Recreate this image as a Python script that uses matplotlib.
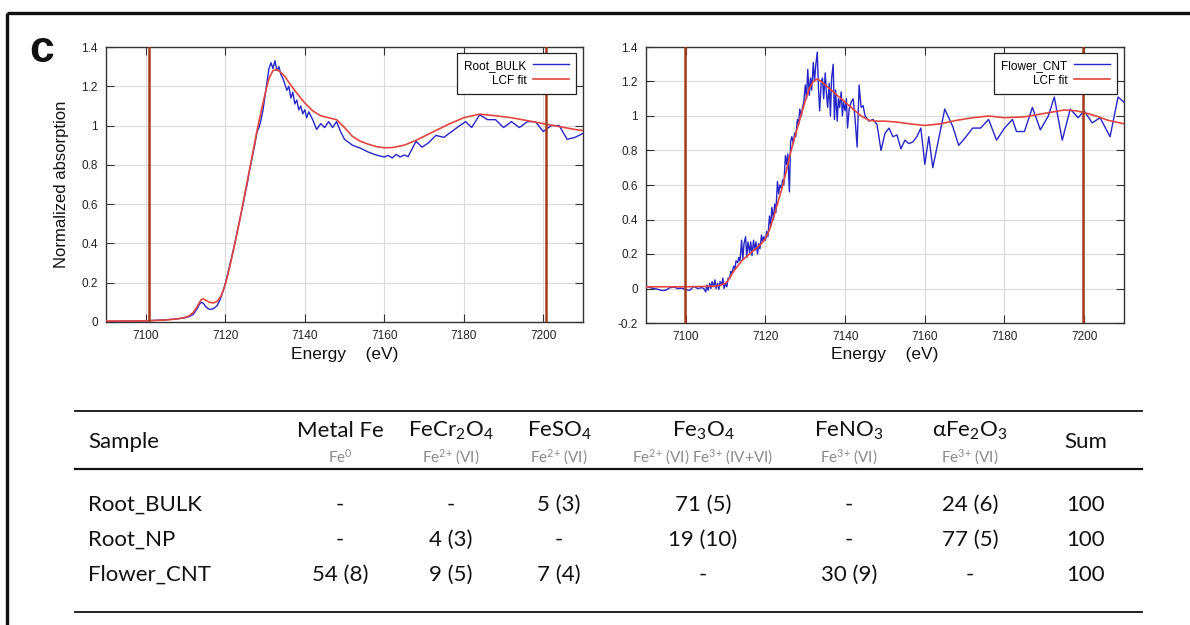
import matplotlib
matplotlib.use('Agg')
import matplotlib.pyplot as plt
from matplotlib.lines import Line2D
from matplotlib.ticker import FuncFormatter, MultipleLocator

# ---------------- data ----------------
# Left panel: Root_BULK
bulk_E = [7090, 7092, 7094, 7096, 7098, 7100, 7102, 7104, 7106, 7108, 7110, 7111, 7112, 7113,
          7113.5, 7114, 7114.5, 7115, 7115.5, 7116, 7116.5, 7117, 7117.5, 7118, 7118.5, 7119,
          7119.5, 7120, 7120.5, 7121, 7121.5, 7122, 7122.5, 7123, 7123.5, 7124, 7124.5, 7125,
          7125.5, 7126, 7126.5, 7127, 7127.5, 7128, 7128.5, 7129, 7129.5, 7130, 7130.5, 7131,
          7131.5, 7132, 7132.5, 7133, 7133.5, 7134, 7134.5, 7135, 7135.5, 7136, 7136.5, 7137,
          7137.5, 7138, 7138.5, 7139, 7139.5, 7140, 7140.5, 7141, 7142, 7143, 7144, 7145, 7146,
          7147, 7148, 7149, 7150, 7152, 7154, 7156, 7158, 7160, 7161, 7162, 7163, 7164, 7165,
          7166, 7168, 7169.5, 7171, 7173, 7175, 7177, 7179, 7180.5, 7182, 7184, 7186, 7188,
          7190, 7192, 7194, 7196, 7198, 7200, 7202, 7204, 7206, 7208, 7210]
bulk_mu = [0.004, 0.003, 0.004, 0.005, 0.005, 0.006, 0.008, 0.010, 0.013, 0.016, 0.022, 0.028, 0.040, 0.070,
           0.090, 0.100, 0.095, 0.080, 0.070, 0.065, 0.065, 0.068, 0.075, 0.085, 0.105, 0.130,
           0.160, 0.195, 0.235, 0.280, 0.320, 0.365, 0.410, 0.460, 0.505, 0.555, 0.600, 0.655,
           0.700, 0.760, 0.810, 0.860, 0.910, 0.970, 0.990, 1.030, 1.080, 1.150, 1.220, 1.290,
           1.320, 1.290, 1.330, 1.280, 1.300, 1.260, 1.240, 1.210, 1.180, 1.200, 1.140, 1.170,
           1.110, 1.130, 1.080, 1.100, 1.060, 1.080, 1.040, 1.070, 1.030, 0.980, 1.010, 0.990, 1.020,
           0.990, 1.020, 0.970, 0.930, 0.900, 0.885, 0.865, 0.850, 0.840, 0.848, 0.835, 0.853, 0.840, 0.850,
           0.842, 0.920, 0.890, 0.910, 0.950, 0.940, 0.970, 1.000, 1.020, 0.990, 1.055, 1.030, 1.030,
           0.990, 1.020, 0.990, 1.020, 1.020, 0.970, 1.000, 1.000, 0.930, 0.940, 0.960]
bulk_fit_E = [7090, 7095, 7100, 7105, 7108, 7110, 7111, 7112, 7113, 7113.5, 7114, 7114.5, 7115, 7116,
              7117, 7118, 7119, 7120, 7121, 7122, 7123, 7124, 7125, 7126, 7127, 7128, 7129, 7130,
              7131, 7132, 7133, 7134, 7135, 7136, 7138, 7140, 7142, 7144, 7146, 7148, 7150, 7152,
              7154, 7156, 7158, 7160, 7162, 7165, 7168, 7170, 7173, 7176, 7180, 7184, 7188, 7192,
              7196, 7200, 7204, 7208, 7210]
bulk_fit = [0.005, 0.005, 0.006, 0.010, 0.016, 0.024, 0.032, 0.050, 0.080, 0.100, 0.115, 0.118, 0.112, 0.100,
            0.097, 0.105, 0.135, 0.190, 0.270, 0.360, 0.455, 0.555, 0.660, 0.765, 0.870, 0.975, 1.070, 1.160,
            1.240, 1.280, 1.285, 1.270, 1.250, 1.220, 1.165, 1.115, 1.075, 1.050, 1.040, 1.030, 0.990, 0.945,
            0.920, 0.905, 0.893, 0.887, 0.888, 0.900, 0.925, 0.945, 0.975, 1.005, 1.040, 1.058, 1.050, 1.040,
            1.025, 1.010, 0.995, 0.980, 0.975]
bulk_range = [7100.7, 7200.7]

# Right panel: Flower_CNT
cnt_E = [7090, 7091, 7092, 7093, 7094, 7095, 7096, 7097, 7098, 7099, 7100, 7101, 7102, 7103, 7104,
         7104.5, 7105, 7105.3, 7105.6, 7106, 7106.3, 7106.6, 7107, 7107.3, 7107.6, 7108, 7108.3,
         7108.6, 7109, 7109.3, 7109.6, 7110, 7110.3, 7110.6, 7111, 7111.3, 7111.6, 7112, 7112.3,
         7112.6, 7113, 7113.3, 7113.6, 7114, 7114.3, 7114.6, 7115, 7115.3, 7115.6, 7116, 7116.3,
         7116.6, 7117, 7117.3, 7117.6, 7118, 7118.3, 7118.6, 7119, 7119.3, 7119.6, 7120, 7120.3,
         7120.6, 7121, 7121.3, 7121.6, 7122, 7122.3, 7122.6, 7123, 7123.3, 7123.6, 7124, 7124.3,
         7124.6, 7125, 7125.3, 7125.6, 7126, 7126.3, 7126.6, 7127, 7127.3, 7127.6, 7128, 7128.3,
         7128.6, 7129, 7129.3, 7129.6, 7130, 7130.3, 7130.6, 7131, 7131.3, 7131.6, 7132, 7132.3,
         7132.6, 7133, 7133.3, 7133.6, 7134, 7134.3, 7134.6, 7135, 7135.3, 7135.6, 7136, 7136.3,
         7136.6, 7137, 7137.3, 7137.6, 7138, 7138.3, 7138.6, 7139, 7139.3, 7139.6, 7140, 7140.3,
         7140.6, 7141, 7141.5, 7142, 7142.5, 7143, 7143.5, 7144, 7144.5, 7145, 7146, 7147, 7148,
         7149, 7150, 7151, 7152, 7153, 7154, 7155, 7156, 7157, 7158, 7159, 7160, 7161, 7162,
         7163.5, 7165, 7167, 7168.5, 7170, 7172, 7174, 7176, 7178, 7180, 7182, 7183, 7185, 7187,
         7189, 7191, 7192.5, 7194.5, 7196.5, 7198.5, 7200, 7202, 7204, 7206.5, 7208.5, 7210]
cnt_mu = [0.015, 0.005, 0.000, -0.005, -0.012, -0.010, 0.005, 0.008, 0.000, 0.002, -0.008, -0.010, 0.012, 0.000, 0.005,
          0.000, -0.020, 0.020, -0.010, 0.030, 0.000, 0.040, 0.010, 0.050, 0.000, 0.030, -0.005,
          0.040, 0.020, 0.060, 0.000, 0.030, 0.010, 0.060, 0.060, 0.100, 0.090, 0.130, 0.110,
          0.160, 0.150, 0.180, 0.160, 0.280, 0.170, 0.260, 0.300, 0.180, 0.270, 0.210, 0.270,
          0.190, 0.280, 0.220, 0.270, 0.200, 0.260, 0.230, 0.310, 0.270, 0.300, 0.280, 0.330,
          0.300, 0.420, 0.360, 0.470, 0.400, 0.490, 0.440, 0.620, 0.550, 0.600, 0.580, 0.630,
          0.600, 0.770, 0.720, 0.780, 0.560, 0.850, 0.880, 0.840, 0.900, 0.880, 0.980, 0.950,
          1.040, 1.000, 1.050, 1.080, 1.180, 1.100, 1.270, 1.120, 1.220, 1.150, 1.310, 1.200,
          1.290, 1.370, 1.160, 1.030, 1.200, 1.220, 1.100, 1.250, 1.130, 1.050, 1.190, 1.000,
          1.220, 1.300, 0.980, 1.150, 0.970, 1.100, 1.050, 1.140, 1.000, 1.080, 1.030, 1.100,
          0.930, 1.040, 1.080, 1.100, 0.980, 0.820, 1.180, 1.050, 1.060, 1.000, 0.970, 0.980, 0.950,
          0.800, 0.900, 0.930, 0.880, 0.890, 0.810, 0.860, 0.840, 0.850, 0.880, 0.930, 0.720, 0.880, 0.700,
          0.870, 1.040, 0.940, 0.830, 0.870, 0.930, 0.930, 0.980, 0.860, 0.930, 0.980, 0.910, 0.910, 1.050,
          0.920, 1.000, 1.110, 0.860, 1.040, 0.990, 1.030, 0.960, 0.990, 0.880, 1.110, 1.080]
cnt_fit_E = [7090, 7100, 7105, 7108, 7110, 7111, 7112, 7113, 7114, 7115, 7116, 7117, 7118, 7119, 7120,
             7121, 7122, 7123, 7124, 7125, 7126, 7127, 7128, 7129, 7130, 7131, 7132, 7133, 7134, 7135,
             7136, 7138, 7140, 7142, 7144, 7146, 7148, 7150, 7153, 7156, 7160, 7164, 7168, 7172, 7176,
             7180, 7185, 7190, 7195, 7198, 7200, 7203, 7206, 7210]
cnt_fit = [0.010, 0.010, 0.012, 0.015, 0.030, 0.060, 0.100, 0.130, 0.160, 0.180, 0.200, 0.220, 0.240, 0.260, 0.290,
           0.340, 0.410, 0.490, 0.570, 0.660, 0.760, 0.850, 0.930, 1.010, 1.090, 1.160, 1.200, 1.215, 1.200, 1.180,
           1.160, 1.120, 1.080, 1.040, 1.000, 0.975, 0.970, 0.970, 0.965, 0.955, 0.945, 0.955, 0.975, 0.990, 1.000,
           0.990, 0.995, 1.015, 1.035, 1.030, 1.020, 1.000, 0.975, 0.955]
cnt_range = [7099.8, 7199.8]

# Table
samples = ['Root_BULK', 'Root_NP', 'Flower_CNT']
references = ['Metal Fe', 'FeCr$_2$O$_4$', 'FeSO$_4$', 'Fe$_3$O$_4$', 'FeNO$_3$', 'αFe$_2$O$_3$']
ref_states = ['Fe$^0$', 'Fe$^{2{+}}$ (VI)', 'Fe$^{2{+}}$ (VI)', 'Fe$^{2{+}}$ (VI) Fe$^{3{+}}$ (IV+VI)',
              'Fe$^{3{+}}$ (VI)', 'Fe$^{3{+}}$ (VI)']
metal_fe = [None, None, 54]
metal_fe_err = [None, None, 8]
fecr2o4 = [None, 4, 9]
fecr2o4_err = [None, 3, 5]
feso4 = [5, None, 7]
feso4_err = [3, None, 4]
fe3o4 = [71, 19, None]
fe3o4_err = [5, 10, None]
feno3 = [None, None, 30]
feno3_err = [None, None, 9]
afe2o3 = [24, 77, None]
afe2o3_err = [6, 5, None]
sums = [100, 100, 100]

# ---------------- figure ----------------
W, H = 1190, 625
plt.rcParams['font.family'] = ['Liberation Sans', 'DejaVu Sans']
plt.rcParams['mathtext.default'] = 'regular'

fig = plt.figure(figsize=(W / 100, H / 100), dpi=100)
fig.patch.set_facecolor('white')


def fx(x):
    return x / W


def fy(y):
    return 1 - y / H


def add_ax(x0, y0, x1, y1):
    return fig.add_axes([fx(x0), fy(y1), (x1 - x0) / W, (y1 - y0) / H])


BLUE = '#2626c8'
RED = '#e2463e'
BROWN = '#a63b1c'
AXC = '#333333'

panels = [
    (add_ax(106, 47, 583, 322), bulk_E, bulk_mu, bulk_fit_E, bulk_fit, bulk_range, 'Root_BULK', (0.0, 1.4), True),
    (add_ax(646, 47, 1124, 323), cnt_E, cnt_mu, cnt_fit_E, cnt_fit, cnt_range, 'Flower_CNT', (-0.2, 1.4), False),
]

for ax, E, mu, fE, fit, rng, name, ylim, ylab in panels:
    ax.plot(E, mu, color=BLUE, lw=1.0, label=name, zorder=3)
    ax.plot(fE, fit, color=RED, lw=1.2, label='LCF fit', zorder=4)
    for r in rng:
        ax.axvline(r, color=BROWN, lw=1.8, zorder=5)
    ax.set_xlim(7090, 7210)
    ax.set_ylim(*ylim)
    ax.xaxis.set_major_locator(MultipleLocator(20))
    ax.yaxis.set_major_locator(MultipleLocator(0.2))
    ax.yaxis.set_major_formatter(FuncFormatter(lambda v, p: f'{v:g}' if abs(v) > 1e-9 else '0'))
    ax.grid(True, color='#dadada', lw=0.8, zorder=0)
    ax.tick_params(direction='in', length=6, width=0.8, colors=AXC, labelcolor='#222222',
                   labelsize=8.5, top=True, right=True, pad=6)
    for s in ax.spines.values():
        s.set_color(AXC)
        s.set_linewidth(1.0)
    ax.set_xlabel('Energy    (eV)', fontsize=12.5, labelpad=3, color='#111111')
    if ylab:
        ax.set_ylabel('Normalized absorption', fontsize=12, labelpad=9, color='#111111')
    leg = ax.legend(loc='upper right', bbox_to_anchor=(0.985, 0.98), borderaxespad=0,
                    markerfirst=False, fancybox=False, framealpha=1, edgecolor='#222222',
                    fontsize=8.5, labelspacing=0.25, borderpad=0.6, handlelength=3.0,
                    handletextpad=0.6)
    leg.get_frame().set_linewidth(0.9)
    leg.set_zorder(10)

# panel letter
fig.text(fx(42), fy(50), 'c', fontsize=32, fontweight='bold', ha='center', va='center',
         color='#111111')

# outer frame (top and left)
fig.add_artist(Line2D([fx(7), fx(1190)], [fy(13), fy(13)], color='#111111', lw=2.4,
                      transform=fig.transFigure, solid_capstyle='butt'))
fig.add_artist(Line2D([fx(7), fx(7)], [fy(13), fy(625)], color='#111111', lw=2.4,
                      transform=fig.transFigure, solid_capstyle='butt'))

# ---------------- table ----------------
TF = ['Lato', 'DejaVu Sans']
tx0, tx1 = 75, 1142
for y, lw in [(411, 1.3), (469, 1.6), (612, 1.3)]:
    fig.add_artist(Line2D([fx(tx0), fx(tx1)], [fy(y), fy(y)], color='#111111', lw=lw,
                          transform=fig.transFigure))

col_x = [340, 451, 559, 703, 849, 970]
sum_x = 1086
label_x = 88
fig.text(fx(label_x), fy(442), 'Sample', fontsize=16, family=TF, ha='left', va='center', color='#111111')
fig.text(fx(sum_x), fy(442), 'Sum', fontsize=16, family=TF, ha='center', va='center', color='#111111')
for x, ref, st in zip(col_x, references, ref_states):
    fig.text(fx(x), fy(431), ref, fontsize=16, family=TF, ha='center', va='center', color='#111111')
    fig.text(fx(x), fy(457), st, fontsize=11, family=TF, ha='center', va='center', color='#8a8a8a')

columns = [(metal_fe, metal_fe_err), (fecr2o4, fecr2o4_err), (feso4, feso4_err),
           (fe3o4, fe3o4_err), (feno3, feno3_err), (afe2o3, afe2o3_err)]
row_y = [505, 540, 575]
for i, (s, y) in enumerate(zip(samples, row_y)):
    fig.text(fx(label_x), fy(y), s, fontsize=16, family=TF, ha='left', va='center', color='#111111')
    for x, (vals, errs) in zip(col_x, columns):
        v, e = vals[i], errs[i]
        txt = '-' if v is None else f'{v} ({e})'
        fig.text(fx(x), fy(y), txt, fontsize=16, family=TF, ha='center', va='center', color='#111111')
    fig.text(fx(sum_x), fy(y), str(sums[i]), fontsize=16, family=TF, ha='center', va='center',
             color='#111111')

fig.savefig('out.png', dpi=100, facecolor='white')
